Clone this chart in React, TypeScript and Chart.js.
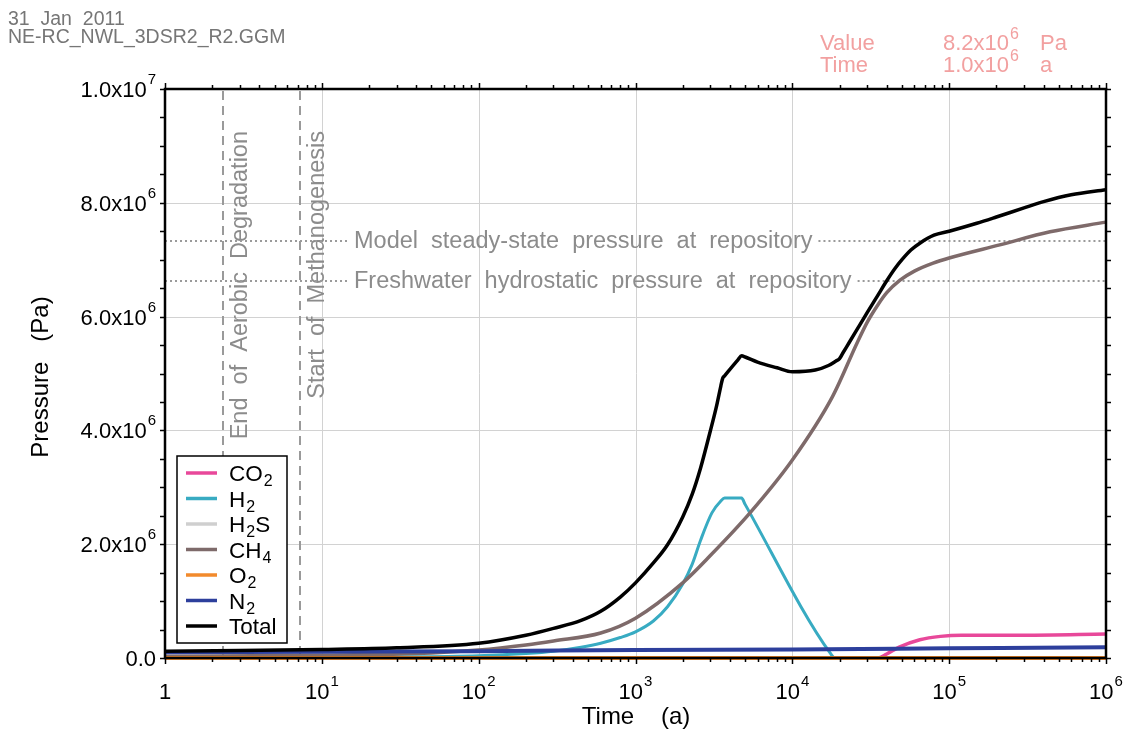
import React, { useEffect, useRef } from "react";
import { Chart, registerables } from "chart.js";
Chart.register(...registerables);

const W = 1133;
const H = 732;
const FONT = '"Liberation Sans", Arial, sans-serif';

// ---- data (time in years, pressure in Pa) ----
const co2Time = [1, 35000, 40000, 48000, 65000, 88000, 120000, 300000, 1000000];
const co2Pa = [0, 0, 0.07e6, 0.19e6, 0.32e6, 0.38e6, 0.4e6, 0.4e6, 0.42e6];

const h2Time = [1, 30, 100, 200, 300, 450, 600, 800, 1000, 1300, 1600, 2000, 2300, 2600, 3070, 3500, 3700, 4750, 5000, 17500, 18700, 1000000];
const h2Pa = [0.01e6, 0.02e6, 0.04e6, 0.08e6, 0.12e6, 0.19e6, 0.26e6, 0.36e6, 0.46e6, 0.65e6, 0.9e6, 1.3e6, 1.65e6, 2.07e6, 2.55e6, 2.76e6, 2.81e6, 2.81e6, 2.7e6, 0.08e6, 0, 0];

const h2sTime = [1, 1000000];
const h2sPa = [0, 0];

const ch4Time = [1, 10, 50, 100, 200, 300, 600, 1000, 2000, 3000, 5370, 10000, 18000, 26000, 30000, 35000, 40000, 48600, 60000, 79000, 100000, 210000, 440000, 1000000];
const ch4Pa = [0.03e6, 0.05e6, 0.09e6, 0.14e6, 0.23e6, 0.3e6, 0.44e6, 0.7e6, 1.32e6, 1.8e6, 2.55e6, 3.48e6, 4.59e6, 5.55e6, 5.9e6, 6.2e6, 6.42e6, 6.64e6, 6.8e6, 6.94e6, 7.03e6, 7.26e6, 7.49e6, 7.66e6];

const o2Time = [1, 1000000];
const o2Pa = [0, 0];

const n2Time = [1, 10, 100, 1000, 10000, 100000, 1000000];
const n2Pa = [0.1e6, 0.11e6, 0.12e6, 0.14e6, 0.15e6, 0.17e6, 0.19e6];

const totalTime = [1, 3, 10, 30, 100, 200, 300, 450, 600, 800, 1000, 1300, 1600, 2000, 2300, 2600, 3000, 3300, 3500, 3600, 3700, 4500, 4750, 5000, 6000, 8000, 10000, 14000, 17000, 19000, 20000, 21000, 23000, 27000, 30000, 35000, 40000, 45000, 50000, 57000, 65000, 80000, 100000, 150000, 200000, 300000, 400000, 600000, 1000000];
const totalPa = [0.12e6, 0.13e6, 0.15e6, 0.18e6, 0.26e6, 0.4e6, 0.52e6, 0.66e6, 0.82e6, 1.07e6, 1.32e6, 1.67e6, 1.99e6, 2.48e6, 2.88e6, 3.34e6, 3.99e6, 4.45e6, 4.78e6, 4.92e6, 4.96e6, 5.24e6, 5.31e6, 5.29e6, 5.2e6, 5.1e6, 5.03e6, 5.06e6, 5.14e6, 5.22e6, 5.26e6, 5.36e6, 5.54e6, 5.86e6, 6.07e6, 6.37e6, 6.63e6, 6.84e6, 7.0e6, 7.17e6, 7.29e6, 7.43e6, 7.5e6, 7.64e6, 7.75e6, 7.91e6, 8.02e6, 8.14e6, 8.23e6];

// ---- axes / labels ----
const xDecades = [1, 10, 100, 1000, 10000, 100000, 1000000];
const xExponents = ["", "1", "2", "3", "4", "5", "6"];
const xMantissa = ["1", "10", "10", "10", "10", "10", "10"];
const yTicks = [0, 2e6, 4e6, 6e6, 8e6, 1e7];
const yMantissa = ["0.0", "2.0x10", "4.0x10", "6.0x10", "8.0x10", "1.0x10"];
const yExponents = ["", "6", "6", "6", "6", "7"];
const yMinorStep = 5e5;

const markerTimes = [2.35, 7.3];
const markerLabels = ["End  of  Aerobic  Degradation", "Start  of  Methanogenesis"];
const refPressures = [7.33e6, 6.63e6];
const refLabels = ["Model  steady-state  pressure  at  repository", "Freshwater  hydrostatic  pressure  at  repository"];

const legendBase = ["CO", "H", "H", "CH", "O", "N", "Total"];
const legendSub = ["2", "2", "2", "4", "2", "2", ""];
const legendTail = ["", "", "S", "", "", "", ""];
const colors = ["#e8489a", "#38abc2", "#cfcfcf", "#7e6a6a", "#f28a2c", "#2d3f9c", "#000000"];

const headerLines = ["31  Jan  2011", "NE-RC_NWL_3DSR2_R2.GGM"];

const toPts = (t: number[], p: number[]) => t.map((v, i) => ({ x: v, y: p[i] }));

function drawSup(ctx: CanvasRenderingContext2D, base: string, sup: string, x: number, y: number, align: string, size: number, supSize: number, rise: number) {
  ctx.font = `${size}px ${FONT}`;
  const bw = ctx.measureText(base).width;
  ctx.font = `${supSize}px ${FONT}`;
  const sw = sup ? ctx.measureText(sup).width + 1 : 0;
  const total = bw + sw;
  const x0 = align === "left" ? x : align === "right" ? x - total : x - total / 2;
  ctx.textAlign = "left";
  ctx.textBaseline = "alphabetic";
  ctx.font = `${size}px ${FONT}`;
  ctx.fillText(base, x0, y);
  if (sup) {
    ctx.font = `${supSize}px ${FONT}`;
    ctx.fillText(sup, x0 + bw + 1, y - rise);
  }
}

const customPlugin = {
  id: "custom",
  beforeDatasetsDraw(chart: any) {
    const { ctx, chartArea: a, scales } = chart;
    const x = scales.x;
    const y = scales.y;
    ctx.save();
    // grid
    ctx.strokeStyle = "#d2d2d2";
    ctx.lineWidth = 1;
    xDecades.slice(1, -1).forEach((d) => {
      const px = Math.round(x.getPixelForValue(d)) + 0.5;
      ctx.beginPath();
      ctx.moveTo(px, a.top);
      ctx.lineTo(px, a.bottom);
      ctx.stroke();
    });
    yTicks.slice(1, -1).forEach((v) => {
      const py = Math.round(y.getPixelForValue(v)) + 0.5;
      ctx.beginPath();
      ctx.moveTo(a.left, py);
      ctx.lineTo(a.right, py);
      ctx.stroke();
    });
    // vertical dashed markers
    ctx.strokeStyle = "#9a9a9a";
    ctx.lineWidth = 2;
    ctx.setLineDash([9, 6]);
    markerTimes.forEach((t) => {
      const px = Math.round(x.getPixelForValue(t));
      ctx.beginPath();
      ctx.moveTo(px, a.top + 2);
      ctx.lineTo(px, a.bottom);
      ctx.stroke();
    });
    // marker labels
    ctx.setLineDash([]);
    ctx.fillStyle = "#8c8c8c";
    ctx.font = `23.5px ${FONT}`;
    markerLabels.forEach((lab, i) => {
      const px = x.getPixelForValue(markerTimes[i]);
      ctx.save();
      ctx.translate(px + 24, a.top + 42);
      ctx.rotate(-Math.PI / 2);
      ctx.textAlign = "right";
      ctx.textBaseline = "alphabetic";
      ctx.fillText(lab, 0, 0);
      ctx.restore();
    });
    // horizontal dotted reference lines
    const textX = 354;
    refPressures.forEach((p, i) => {
      const py = Math.round(y.getPixelForValue(p));
      ctx.font = `23.5px ${FONT}`;
      const tw = ctx.measureText(refLabels[i]).width;
      ctx.strokeStyle = "#9a9a9a";
      ctx.lineWidth = 2;
      ctx.setLineDash([2, 3]);
      ctx.beginPath();
      ctx.moveTo(a.left, py);
      ctx.lineTo(textX - 6, py);
      ctx.moveTo(textX + tw + 6, py);
      ctx.lineTo(a.right, py);
      ctx.stroke();
      ctx.setLineDash([]);
      ctx.fillStyle = "#8c8c8c";
      ctx.textAlign = "left";
      ctx.textBaseline = "middle";
      ctx.fillText(refLabels[i], textX, py + 1);
    });
    ctx.restore();
  },
  afterDatasetsDraw(chart: any) {
    const { ctx, chartArea: a, scales } = chart;
    const x = scales.x;
    const y = scales.y;
    ctx.save();
    ctx.setLineDash([]);
    // ticks
    ctx.strokeStyle = "#000";
    ctx.lineWidth = 1.5;
    ctx.beginPath();
    for (let v = 0; v <= 1e7 + 1; v += yMinorStep) {
      const py = Math.round(y.getPixelForValue(v)) + 0.5;
      ctx.moveTo(a.left - 5, py);
      ctx.lineTo(a.left, py);
      ctx.moveTo(a.right, py);
      ctx.lineTo(a.right + 5, py);
    }
    xDecades.forEach((d, di) => {
      for (let m = 1; m <= 9; m++) {
        if (di === xDecades.length - 1 && m > 1) break;
        const px = Math.round(x.getPixelForValue(d * m)) + 0.5;
        const len = m === 1 ? 6 : 4;
        ctx.moveTo(px, a.bottom);
        ctx.lineTo(px, a.bottom + len);
        ctx.moveTo(px, a.top);
        ctx.lineTo(px, a.top - len);
      }
    });
    ctx.stroke();
    // frame
    ctx.lineWidth = 2.5;
    ctx.strokeRect(a.left, a.top, a.right - a.left, a.bottom - a.top);

    // tick labels
    ctx.fillStyle = "#000";
    yTicks.forEach((v, i) => {
      const py = y.getPixelForValue(v);
      drawSup(ctx, yMantissa[i], yExponents[i], a.left - 9, py + 8, "right", 22, 15, 13);
    });
    xDecades.forEach((d, i) => {
      const px = x.getPixelForValue(d);
      drawSup(ctx, xMantissa[i], xExponents[i], px, a.bottom + 41, "center", 22, 15, 13);
    });
    // axis titles
    ctx.font = `24px ${FONT}`;
    ctx.textAlign = "center";
    ctx.textBaseline = "alphabetic";
    ctx.fillText("Time    (a)", 636, a.bottom + 66);
    ctx.save();
    ctx.translate(48, 377);
    ctx.rotate(-Math.PI / 2);
    ctx.fillText("Pressure   (Pa)", 0, 0);
    ctx.restore();

    // legend
    const lx = 177, ly = 456, lw = 110, lh = 187;
    ctx.fillStyle = "#fff";
    ctx.fillRect(lx, ly, lw, lh);
    ctx.strokeStyle = "#000";
    ctx.lineWidth = 1.5;
    ctx.strokeRect(lx, ly, lw, lh);
    legendBase.forEach((b, i) => {
      const cy = 473 + i * 25.5;
      ctx.strokeStyle = colors[i];
      ctx.lineWidth = 3.5;
      ctx.beginPath();
      ctx.moveTo(186, cy);
      ctx.lineTo(217, cy);
      ctx.stroke();
      ctx.fillStyle = "#000";
      ctx.textAlign = "left";
      ctx.textBaseline = "alphabetic";
      ctx.font = `22.5px ${FONT}`;
      let tx = 229;
      ctx.fillText(b, tx, cy + 8);
      tx += ctx.measureText(b).width;
      if (legendSub[i]) {
        ctx.font = `16px ${FONT}`;
        ctx.fillText(legendSub[i], tx + 1, cy + 13);
        tx += ctx.measureText(legendSub[i]).width + 1;
      }
      if (legendTail[i]) {
        ctx.font = `22.5px ${FONT}`;
        ctx.fillText(legendTail[i], tx, cy + 8);
      }
    });

    // header
    ctx.fillStyle = "#767676";
    ctx.font = `19.5px ${FONT}`;
    ctx.textAlign = "left";
    ctx.fillText(headerLines[0], 8, 25);
    ctx.fillText(headerLines[1], 8, 43);

    // value readout
    ctx.fillStyle = "#f2a0a0";
    ctx.font = `22px ${FONT}`;
    ctx.fillText("Value", 820, 50);
    ctx.fillText("Time", 820, 72);
    drawSup(ctx, "8.2x10", "6", 943, 50, "left", 22, 16, 11);
    drawSup(ctx, "1.0x10", "6", 943, 72, "left", 22, 16, 11);
    ctx.font = `22px ${FONT}`;
    ctx.fillText("Pa", 1040, 50);
    ctx.fillText("a", 1040, 72);
    ctx.restore();
  },
};

export default function App() {
  const ref = useRef<HTMLCanvasElement | null>(null);
  useEffect(() => {
    if (!ref.current) return;
    const mk = (t: number[], p: number[], color: string, width: number, order: number, smooth: boolean) => ({
      data: toPts(t, p),
      borderColor: color,
      backgroundColor: color,
      borderWidth: width,
      pointRadius: 0,
      tension: 0,
      cubicInterpolationMode: smooth ? "monotone" : "default",
      order,
      clip: false as any,
      fill: false,
    });
    const chart = new Chart(ref.current, {
      type: "line",
      data: {
        datasets: [
          mk(totalTime, totalPa, colors[6], 3.5, 0, true),
          mk(n2Time, n2Pa, colors[5], 4, 1, true),
          mk(o2Time, o2Pa, colors[4], 4, 2, false),
          mk(co2Time, co2Pa, colors[0], 3.5, 3, true),
          mk(ch4Time, ch4Pa, colors[3], 3.5, 4, true),
          mk(h2Time, h2Pa, colors[1], 3, 5, true),
          mk(h2sTime, h2sPa, colors[2], 3, 6, false),
        ] as any,
      },
      options: {
        responsive: false,
        animation: false,
        devicePixelRatio: 1,
        layout: { padding: { left: 165, top: 89, right: 27, bottom: 74 } },
        plugins: { legend: { display: false }, tooltip: { enabled: false } },
        scales: {
          x: { type: "logarithmic", min: 1, max: 1e6, display: false },
          y: { type: "linear", min: 0, max: 1e7, display: false },
        },
      },
      plugins: [customPlugin],
    });
    return () => chart.destroy();
  }, []);
  return (
    <div style={{ position: "absolute", left: 0, top: 0, width: W, height: H, background: "#fff" }}>
      <canvas ref={ref} width={W} height={H} />
    </div>
  );
}
